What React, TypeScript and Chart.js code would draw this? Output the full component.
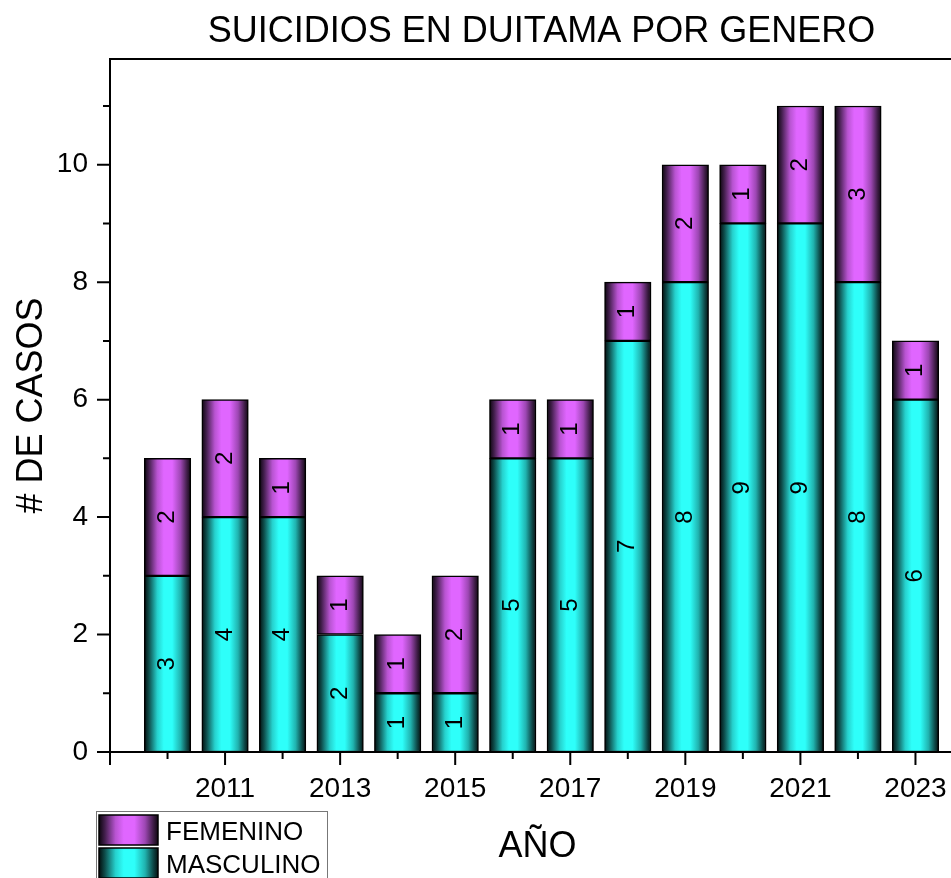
import React, { useEffect, useRef } from 'react';
import { Chart, registerables } from 'chart.js';

Chart.register(...registerables);

const YEARS = [2010, 2011, 2012, 2013, 2014, 2015, 2016, 2017, 2018, 2019, 2020, 2021, 2022, 2023];
const MASCULINO = [3, 4, 4, 2, 1, 1, 5, 5, 7, 8, 9, 9, 8, 6];
const FEMENINO = [2, 2, 1, 1, 1, 2, 1, 1, 1, 2, 1, 2, 3, 1];
const X_TICK_LABELS = [2011, 2013, 2015, 2017, 2019, 2021, 2023];
const Y_TICK_LABELS = [0, 2, 4, 6, 8, 10];
const SERIES_NAMES = ['MASCULINO', 'FEMENINO'];
const TITLE = 'SUICIDIOS EN DUITAMA POR GENERO';
const X_TITLE = 'AÑO';
const Y_TITLE = '# DE CASOS';

const FONT = '"Liberation Sans", Arial, Helvetica, sans-serif';
const CYAN = [46, 255, 250];
const MAGENTA = [224, 102, 255];
const BAR_W = 46.5;
const STOPS: [number, number][] = [
  [0, 0.05], [0.1, 0.3], [0.28, 0.82], [0.42, 1], [0.6, 1], [0.78, 0.7], [0.92, 0.28], [1, 0.07],
];

function makeGrad(ctx: CanvasRenderingContext2D, x0: number, x1: number, rgb: number[]) {
  const g = ctx.createLinearGradient(x0, 0, x1, 0);
  STOPS.forEach(([p, m]) => {
    g.addColorStop(p, `rgb(${rgb.map((c) => Math.round(c * m)).join(',')})`);
  });
  return g;
}

function barColor(rgb: number[]) {
  return (c: any) => {
    const flat = `rgb(${rgb.join(',')})`;
    const xs = c.chart.scales && c.chart.scales.x;
    if (!xs || c.dataIndex == null || c.type !== 'data') return flat;
    const cx = xs.getPixelForValue(YEARS[c.dataIndex]);
    if (!Number.isFinite(cx)) return flat;
    return makeGrad(c.chart.ctx, cx - BAR_W / 2, cx + BAR_W / 2, rgb);
  };
}

const axesPlugin = {
  id: 'originAxes',
  afterDatasetsDraw(chart: any) {
    const { ctx, chartArea, scales } = chart;
    const { left, right, top, bottom } = chartArea;
    const x = scales.x;
    const y = scales.y;
    ctx.save();
    ctx.strokeStyle = '#000';
    ctx.lineWidth = 2;
    ctx.beginPath();
    ctx.moveTo(left, top);
    ctx.lineTo(right, top);
    ctx.lineTo(right, bottom);
    ctx.lineTo(left, bottom);
    ctx.closePath();
    ctx.stroke();
    ctx.beginPath();
    for (let v = 0; v <= 11; v++) {
      const py = y.getPixelForValue(v);
      const len = v % 2 === 0 ? 13 : 7;
      ctx.moveTo(left - len, py);
      ctx.lineTo(left, py);
    }
    for (let yr = 2009; yr <= 2024; yr++) {
      const px = x.getPixelForValue(yr);
      const len = yr % 2 === 1 ? 13 : 7;
      ctx.moveTo(px, bottom);
      ctx.lineTo(px, bottom + len);
    }
    ctx.stroke();

    // bar value labels
    ctx.fillStyle = '#000';
    ctx.font = `24px ${FONT}`;
    ctx.textAlign = 'center';
    ctx.textBaseline = 'middle';
    chart.data.datasets.forEach((ds: any, di: number) => {
      const meta = chart.getDatasetMeta(di);
      meta.data.forEach((el: any, i: number) => {
        const val = ds.data[i].y;
        const cy = (el.y + el.base) / 2;
        ctx.save();
        ctx.translate(el.x, cy);
        ctx.rotate(-Math.PI / 2);
        ctx.fillText(String(val), 0, 0);
        ctx.restore();
      });
    });

    // titles
    const cxMid = (left + right) / 2;
    ctx.textBaseline = 'alphabetic';
    ctx.font = `36px ${FONT}`;
    ctx.fillText(TITLE, cxMid, 42);
    ctx.fillText(X_TITLE, cxMid - 4, 857);
    ctx.save();
    ctx.translate(42, (top + bottom) / 2);
    ctx.rotate(-Math.PI / 2);
    ctx.fillText(Y_TITLE, 0, 0);
    ctx.restore();

    // legend
    ctx.strokeStyle = '#777';
    ctx.lineWidth = 1;
    ctx.strokeRect(96.5, 811.5, 231, 90);
    const items = [
      { name: SERIES_NAMES[1], rgb: MAGENTA, y: 815 },
      { name: SERIES_NAMES[0], rgb: CYAN, y: 848 },
    ];
    items.forEach((it) => {
      ctx.fillStyle = makeGrad(ctx, 99, 158, it.rgb);
      ctx.fillRect(99, it.y, 59, 30);
      ctx.strokeStyle = '#000';
      ctx.lineWidth = 1.5;
      ctx.strokeRect(99, it.y, 59, 30);
      ctx.fillStyle = '#000';
      ctx.textAlign = 'left';
      ctx.font = `26px ${FONT}`;
      ctx.fillText(it.name, 166, it.y + 25);
    });
    ctx.restore();
  },
};

export default function App() {
  const ref = useRef<HTMLCanvasElement>(null);
  useEffect(() => {
    if (!ref.current) return;
    const chart = new Chart(ref.current, {
      type: 'bar',
      data: {
        datasets: [
          {
            label: SERIES_NAMES[0],
            data: YEARS.map((yr, i) => ({ x: yr, y: MASCULINO[i] })),
            backgroundColor: barColor(CYAN),
            borderColor: '#000',
            borderWidth: 1.5,
            borderSkipped: false,
            barThickness: BAR_W,
          },
          {
            label: SERIES_NAMES[1],
            data: YEARS.map((yr, i) => ({ x: yr, y: FEMENINO[i] })),
            backgroundColor: barColor(MAGENTA),
            borderColor: '#000',
            borderWidth: 1.5,
            borderSkipped: false,
            barThickness: BAR_W,
          },
        ],
      },
      options: {
        animation: false,
        responsive: false,
        events: [],
        layout: { padding: { top: 59, right: 27, left: 0, bottom: 0 } },
        plugins: { legend: { display: false }, tooltip: { enabled: false }, title: { display: false } },
        scales: {
          x: {
            type: 'linear',
            stacked: true,
            offset: false,
            min: 2009,
            max: 2024,
            border: { display: false },
            grid: { display: false, drawTicks: false, offset: false },
            afterFit: (s: any) => { s.height = 126; },
            ticks: {
              stepSize: 1,
              autoSkip: false,
              maxRotation: 0,
              includeBounds: false,
              padding: 20,
              color: '#000',
              font: { family: FONT, size: 28 },
              callback: (v: any) => (X_TICK_LABELS.includes(Number(v)) ? String(v) : ''),
            },
          },
          y: {
            type: 'linear',
            stacked: true,
            min: 0,
            max: 11.8,
            border: { display: false },
            grid: { display: false, drawTicks: false },
            afterFit: (s: any) => { s.width = 110; },
            ticks: {
              stepSize: 2,
              includeBounds: false,
              padding: 22,
              color: '#000',
              font: { family: FONT, size: 28 },
              callback: (v: any) => (Y_TICK_LABELS.includes(Number(v)) ? String(v) : ''),
            },
          },
        },
      },
      plugins: [axesPlugin],
    } as any);
    return () => chart.destroy();
  }, []);
  return (
    <div style={{ position: 'fixed', left: 0, top: 0, width: 951, height: 878, overflow: 'hidden', background: '#fff' }}>
      <canvas ref={ref} width={1000} height={878} style={{ width: 1000, height: 878, display: 'block' }} />
    </div>
  );
}
